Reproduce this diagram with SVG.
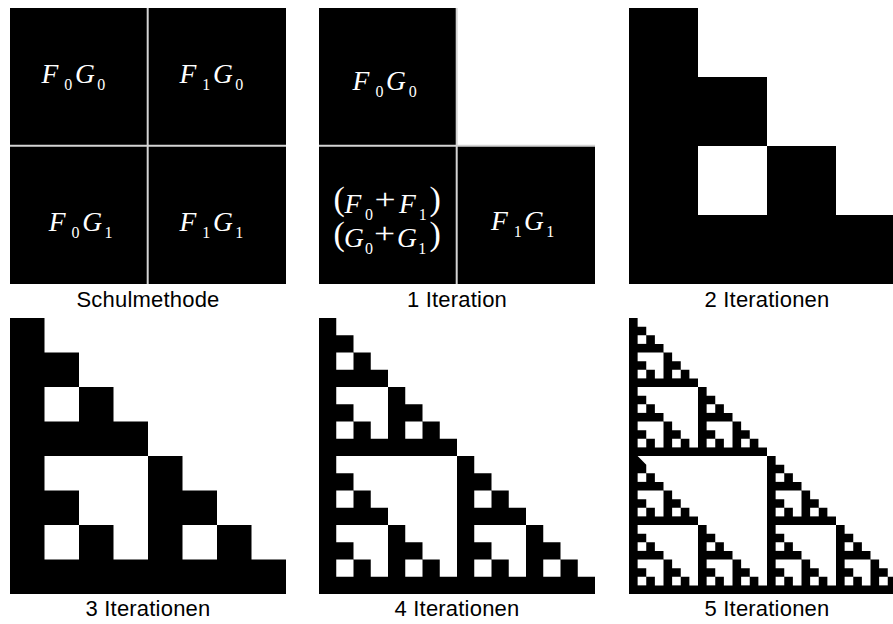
<svg xmlns="http://www.w3.org/2000/svg" width="893" height="624" viewBox="0 0 893 624">
<style>
.lbl{font-family:"Liberation Sans",Arial,sans-serif;font-size:22px;letter-spacing:0.2px;fill:#000;text-anchor:middle}
.m{font-family:"Liberation Serif","Times New Roman",serif;font-size:27.5px;fill:#fff;font-style:italic}
.s{font-family:"Liberation Serif","Times New Roman",serif;font-size:16px;fill:#fff}
.p{font-family:"Liberation Serif","Times New Roman",serif;font-size:34px;fill:#fff}
.pl{font-family:"Liberation Serif","Times New Roman",serif;font-size:30px;fill:#fff}
.div{stroke:#d4d4d4;stroke-width:2;fill:none}
.blk{fill:#000}
.hole{fill:#fff}
</style>
<defs>
<path id="t2" class="blk" transform="scale(.25)" d="M0 0h1v1h1v1h1v1h1v1H0Z"/>
<path id="t3" class="blk" transform="scale(.125)" d="M0 0h1v1h1v1h1v1h1v1h1v1h1v1h1v1h1v1H0Z"/>
<path id="t4" class="blk" transform="scale(.0625)" d="M0 0h1v1h1v1h1v1h1v1h1v1h1v1h1v1h1v1h1v1h1v1h1v1h1v1h1v1h1v1h1v1h1v1H0Z"/>
<path id="t5" class="blk" transform="scale(.03125)" d="M0 0h1v1h1v1h1v1h1v1h1v1h1v1h1v1h1v1h1v1h1v1h1v1h1v1h1v1h1v1h1v1h1v1h1v1h1v1h1v1h1v1h1v1h1v1h1v1h1v1h1v1h1v1h1v1h1v1h1v1h1v1h1v1h1v1H0Z"/>
<path id="u1" class="hole" transform="scale(.5)" d="M1 0H2V1h-1v-1Z"/>
<path id="u2" class="hole" transform="scale(.25)" d="M1 0H4V3h-1v-1h-1v-1h-1v-1Z"/>
<path id="u3" class="hole" transform="scale(.125)" d="M1 0H8V7h-1v-1h-1v-1h-1v-1h-1v-1h-1v-1h-1v-1h-1v-1Z"/>
<path id="u4" class="hole" transform="scale(.0625)" d="M1 0H16V15h-1v-1h-1v-1h-1v-1h-1v-1h-1v-1h-1v-1h-1v-1h-1v-1h-1v-1h-1v-1h-1v-1h-1v-1h-1v-1h-1v-1Z"/>
<g id="h2"><use href="#u1" transform="translate(0,.5) scale(.5)"/></g>
<g id="h3"><use href="#h2" transform="scale(.5)"/><use href="#h2" transform="translate(0,.5) scale(.5)"/><use href="#h2" transform="translate(.5,.5) scale(.5)"/><use href="#u2" transform="translate(0,.5) scale(.5)"/></g>
<g id="h4"><use href="#h3" transform="scale(.5)"/><use href="#h3" transform="translate(0,.5) scale(.5)"/><use href="#h3" transform="translate(.5,.5) scale(.5)"/><use href="#u3" transform="translate(0,.5) scale(.5)"/></g>
<g id="h5"><use href="#h4" transform="scale(.5)"/><use href="#h4" transform="translate(0,.5) scale(.5)"/><use href="#h4" transform="translate(.5,.5) scale(.5)"/><use href="#u4" transform="translate(0,.5) scale(.5)"/></g>
</defs>
<rect width="893" height="624" fill="#fff"/>

<g id="schulmethode">
<rect x="10" y="8" width="276" height="276" fill="#000"/>
<line class="div" x1="147.7" y1="8" x2="147.7" y2="284"/>
<line class="div" x1="10" y1="145.7" x2="286" y2="145.7"/>
<text class="m" x="41.5" y="83">F</text><text class="s" x="64.3" y="90">0</text><text class="m" x="75" y="83">G</text><text class="s" x="97.3" y="90">0</text>
<text class="m" x="179.5" y="83">F</text><text class="s" x="202.3" y="90">1</text><text class="m" x="213" y="83">G</text><text class="s" x="235.3" y="90">0</text>
<text class="m" x="48.8" y="230.5">F</text><text class="s" x="71.6" y="237.5">0</text><text class="m" x="82.3" y="230.5">G</text><text class="s" x="104.6" y="237.5">1</text>
<text class="m" x="179.5" y="230.5">F</text><text class="s" x="202.3" y="237.5">1</text><text class="m" x="213" y="230.5">G</text><text class="s" x="235.3" y="237.5">1</text>
<text class="lbl" x="148" y="307">Schulmethode</text>
</g>

<g id="iteration1">
<rect x="319" y="8" width="137.7" height="137.7" fill="#000"/>
<rect x="319" y="145.7" width="137.7" height="138.3" fill="#000"/>
<rect x="456.7" y="145.7" width="138.3" height="138.3" fill="#000"/>
<line class="div" x1="456.7" y1="8" x2="456.7" y2="284"/>
<line class="div" x1="319" y1="145.7" x2="595" y2="145.7"/>
<text class="m" x="352.5" y="90">F</text><text class="s" x="375.5" y="97">0</text><text class="m" x="386.1" y="90">G</text><text class="s" x="408.7" y="97">0</text>
<text class="m" x="491" y="230">F</text><text class="s" x="513.7" y="237">1</text><text class="m" x="524" y="230">G</text><text class="s" x="546.2" y="237">1</text>
<text class="p" x="333.5" y="210">(</text><text class="m" x="344.5" y="212.5">F</text><text class="s" x="365" y="219.5">0</text>
<text class="pl" transform="translate(374.5,209) scale(1.25,1)">+</text>
<text class="m" x="399" y="212.5">F</text><text class="s" x="418.7" y="219.5">1</text><text class="p" x="429.5" y="210">)</text>
<text class="p" x="333.5" y="244.5">(</text><text class="m" x="344" y="246.7">G</text><text class="s" x="365" y="253.7">0</text>
<text class="pl" transform="translate(374,243) scale(1.25,1)">+</text>
<text class="m" x="397" y="246.7">G</text><text class="s" x="418.2" y="253.7">1</text><text class="p" x="429.5" y="244.5">)</text>
<text class="lbl" x="457" y="307">1 Iteration</text>
</g>

<g id="iteration2">
<g transform="translate(629,8) scale(276)"><use href="#t2"/><use href="#h2"/></g>
<text class="lbl" x="767" y="307">2 Iterationen</text>
</g>

<g id="iteration3">
<g transform="translate(10,318) scale(276)"><use href="#t3"/><use href="#h3"/></g>
<text class="lbl" x="148" y="616">3 Iterationen</text>
</g>

<g id="iteration4">
<g transform="translate(319,318) scale(276)"><use href="#t4"/><use href="#h4"/></g>
<text class="lbl" x="457" y="616">4 Iterationen</text>
</g>

<g id="iteration5">
<g transform="translate(629,318) scale(276)"><use href="#t5"/><use href="#h5"/></g>
<text class="lbl" x="767" y="616">5 Iterationen</text>
</g>
<g id="connectors"/>
</svg>
